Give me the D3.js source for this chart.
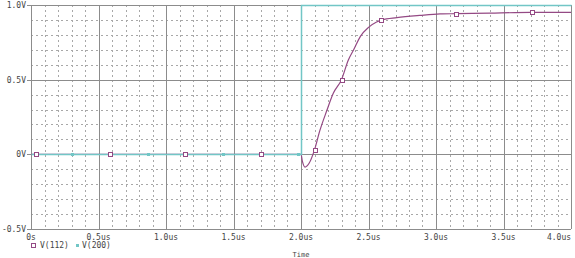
<!DOCTYPE html>
<html>
<head>
<meta charset="utf-8">
<script src="https://cdn.jsdelivr.net/npm/d3@7"></script>
<style>
  body { margin: 0; background: #fff; }
  svg { display: block; }
  text { font-family: "DejaVu Sans Mono", monospace; font-size: 8px; fill: #444; }
</style>
</head>
<body>
<div id="graf"></div>
<script>
// Datos (tiempo en us, tension en V)
tiempo112 = [0, 0.5, 1.0, 1.5, 1.99, 2.0, 2.01, 2.03, 2.06, 2.10, 2.14, 2.19, 2.24, 2.30, 2.35, 2.39, 2.44, 2.50, 2.56, 2.60, 2.71, 2.88, 3.03, 3.16, 3.40, 3.70, 4.0]
v112       = [0, 0, 0, 0, 0, 0, -0.045, -0.085, -0.06, 0.03, 0.16, 0.29, 0.41, 0.50, 0.63, 0.70, 0.79, 0.85, 0.886, 0.90, 0.915, 0.93, 0.94, 0.942, 0.946, 0.95, 0.95]
tiempo200  = [0, 2.0, 2.0, 4.0]
v200       = [0, 0, 1.0, 1.0]

// marcadores de la simulacion
marcas112 = [0.037, 0.586, 1.14, 1.70, 2.10, 2.30, 2.59, 3.15, 3.71]
marcas200 = [0.30, 0.87, 1.42, 1.98]

xTicks = [0, 0.5, 1.0, 1.5, 2.0, 2.5, 3.0, 3.5, 4.0]
xLabels = ['0s', '0.5us', '1.0us', '1.5us', '2.0us', '2.5us', '3.0us', '3.5us', '4.0us']
yTicks = [1.0, 0.5, 0, -0.5]
yLabels = ['1.0V', '0.5V', '0V', '-0.5V']

ancho_total = 575
alto_total = 258
margins = { top: 5, left: 31, right: 4, bottom: 29 }

colPurpura = '#944984'
colCian = '#72c6c6'
colGris = '#8c8c8c'

svg = d3.select('#graf').append('svg')
        .attr('width', ancho_total)
        .attr('height', alto_total)

x = d3.scaleLinear().domain([0, 4]).range([margins.left, ancho_total - margins.right])
y = d3.scaleLinear().domain([-0.5, 1]).range([alto_total - margins.bottom, margins.top])

px = v => Math.round(v) + 0.5

// Rejilla menor punteada (cada 0.1)
menoresX = d3.range(0, 41).map(i => i / 10).filter(v => Math.round(v * 10) % 5 != 0)
menoresY = d3.range(-5, 11).map(i => i / 10).filter(v => Math.round(v * 10) % 5 != 0)

g = svg.append('g')
g.selectAll('.mx').data(menoresX).enter().append('line')
  .attr('x1', d => px(x(d))).attr('x2', d => px(x(d)))
  .attr('y1', y(1)).attr('y2', y(-0.5))
  .attr('stroke', '#a8a8a8').attr('stroke-dasharray', '2,3')
g.selectAll('.my').data(menoresY).enter().append('line')
  .attr('x1', x(0)).attr('x2', x(4))
  .attr('y1', d => px(y(d))).attr('y2', d => px(y(d)))
  .attr('stroke', '#a8a8a8').attr('stroke-dasharray', '2,3')

// Rejilla mayor
g.selectAll('.Mx').data(xTicks).enter().append('line')
  .attr('x1', d => px(x(d))).attr('x2', d => px(x(d)))
  .attr('y1', y(1)).attr('y2', y(-0.5))
  .attr('stroke', colGris)
g.selectAll('.My').data(yTicks).enter().append('line')
  .attr('x1', x(0) - 4).attr('x2', x(4))
  .attr('y1', d => px(y(d))).attr('y2', d => px(y(d)))
  .attr('stroke', colGris)

// Etiquetas de ejes
g.selectAll('.ly').data(yTicks).enter().append('text')
  .attr('x', x(0) - 5)
  .attr('y', d => y(d) + 3)
  .attr('text-anchor', 'end')
  .text((d, i) => yLabels[i])
g.selectAll('.lx').data(xTicks).enter().append('text')
  .attr('x', d => Math.min(x(d), ancho_total - 16))
  .attr('y', y(-0.5) + 11)
  .attr('text-anchor', 'middle')
  .text((d, i) => xLabels[i])

// Curvas
datos112 = tiempo112.map((t, i) => ({ t: t, v: v112[i] }))
datos200 = tiempo200.map((t, i) => ({ t: t, v: v200[i] }))

lineaGen = d3.line().x(d => x(d.t)).y(d => y(d.v)).curve(d3.curveMonotoneX)
escalonGen = d3.line().x(d => px(x(d.t))).y(d => px(y(d.v)))

path112 = g.append('path').attr('d', lineaGen(datos112))
  .attr('fill', 'none').attr('stroke', colPurpura).attr('stroke-width', 1.2)
  .node()
g.append('path').attr('d', escalonGen(datos200))
  .attr('fill', 'none').attr('stroke', colCian).attr('stroke-width', 1.5)

// y de la curva dibujada en el tiempo t (busqueda binaria sobre el path)
function yEnCurva(t) {
  total = path112.getTotalLength()
  lo = 0; hi = total
  for (k = 0; k < 30; k++) {
    mid = (lo + hi) / 2
    if (path112.getPointAtLength(mid).x < x(t)) lo = mid
    else hi = mid
  }
  return path112.getPointAtLength(lo).y
}

g.selectAll('.m112').data(marcas112).enter().append('rect')
  .attr('x', d => Math.round(x(d)) - 1.5)
  .attr('y', d => Math.round(yEnCurva(d)) - 1.5)
  .attr('width', 4).attr('height', 4)
  .attr('fill', '#fff').attr('stroke', colPurpura)
g.selectAll('.m200').data(marcas200).enter().append('rect')
  .attr('x', d => Math.round(x(d)) - 1)
  .attr('y', d => Math.round(y(0)) - 1)
  .attr('width', 3).attr('height', 3)
  .attr('fill', colCian)

// Leyenda
ley = svg.append('g').attr('transform', `translate(0, ${alto_total - 13})`)
ley.append('rect').attr('x', 31.5).attr('y', -1.5).attr('width', 4).attr('height', 4)
   .attr('fill', '#fff').attr('stroke', colPurpura)
ley.append('text').attr('x', 40).attr('y', 3).text('V(112)')
ley.append('rect').attr('x', 76).attr('y', -1).attr('width', 3).attr('height', 3)
   .attr('fill', colCian)
ley.append('text').attr('x', 82).attr('y', 3).text('V(200)')

svg.append('text').attr('x', 301).attr('y', alto_total - 1)
   .attr('text-anchor', 'middle').style('font-size', '7px').text('Time')
</script>
</body>
</html>
